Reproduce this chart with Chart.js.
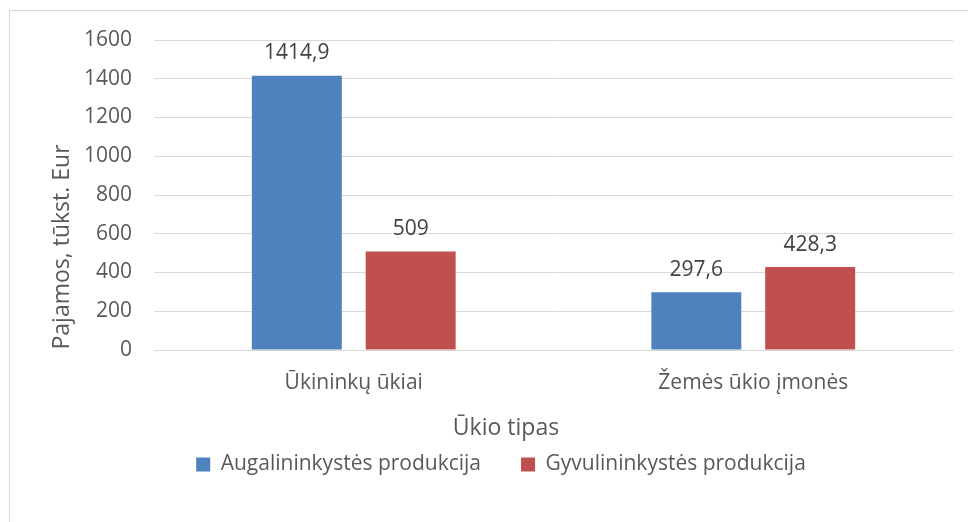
<!DOCTYPE html>
<html>
<head>
<meta charset="utf-8">
<script src="https://cdn.jsdelivr.net/npm/chart.js@4.4.0/dist/chart.umd.min.js"></script>
<style>
  html, body { margin: 0; padding: 0; background: #fff; overflow: hidden; }
  #frame { position: absolute; left: 9px; top: 10px; width: 1100px; height: 700px; border: 1px solid #d9d9d9; }
  #wrap { position: absolute; left: 0; top: 0; width: 968px; height: 522px; }
</style>
</head>
<body>
<div id="frame"></div>
<div id="wrap"><canvas id="farmChart" width="968" height="522"></canvas></div>
<script>
// kategorijos ir reikšmės
const categories = ['Ūkininkų ūkiai', 'Žemės ūkio įmonės'];
const cropValues = [1414.9, 297.6];
const livestockValues = [509, 428.3];
const seriesNames = ['Augalininkystės produkcija', 'Gyvulininkystės produkcija'];
const yTitle = 'Pajamos, tūkst. Eur';
const xTitle = 'Ūkio tipas';

const FONT = '"Open Sans", "Noto Sans", sans-serif';
const TEXT = '#595959';

// reikšmės virš stulpelių ir ašių pavadinimai
const labelsPlugin = {
  id: 'valueLabels',
  afterDatasetsDraw(chart) {
    const ctx = chart.ctx;
    ctx.save();
    ctx.font = '21px ' + FONT;
    ctx.fillStyle = '#404040';
    ctx.textAlign = 'center';
    ctx.textBaseline = 'bottom';
    chart.data.datasets.forEach((ds, i) => {
      chart.getDatasetMeta(i).data.forEach((bar, j) => {
        ctx.fillText(String(ds.data[j]).replace('.', ','), bar.x, bar.y - 12);
      });
    });
    // ašių pavadinimai
    ctx.font = '23px ' + FONT;
    ctx.fillStyle = TEXT;
    ctx.textBaseline = 'middle';
    ctx.fillText(xTitle, 506, 428);
    ctx.translate(62, 247);
    ctx.rotate(-Math.PI / 2);
    ctx.fillText(yTitle, 0, 0);
    ctx.restore();
  }
};

new Chart(document.getElementById('farmChart').getContext('2d'), {
  type: 'bar',
  data: {
    labels: categories,
    datasets: [
      { label: seriesNames[0], data: cropValues, backgroundColor: '#4f81bd' },
      { label: seriesNames[1], data: livestockValues, backgroundColor: '#c0504d' }
    ]
  },
  options: {
    responsive: false,
    animation: false,
    categoryPercentage: 0.57,
    barPercentage: 0.79,
    layout: { padding: { left: 49, right: 15, top: 40, bottom: 37 } },
    plugins: {
      legend: {
        position: 'bottom',
        labels: {
          font: { family: FONT, size: 21 },
          color: TEXT,
          boxWidth: 14,
          boxHeight: 14,
          padding: 40
        }
      },
      tooltip: { enabled: false }
    },
    scales: {
      x: {
        grid: { display: false },
        border: { color: '#d9d9d9' },
        ticks: { font: { family: FONT, size: 21 }, color: TEXT, padding: 12 },
        afterFit(scale) { scale.height = 64; }
      },
      y: {
        min: 0,
        max: 1600,
        ticks: {
          stepSize: 200,
          font: { family: FONT, size: 21 },
          color: TEXT,
          padding: 22,
          callback: v => String(v)
        },
        grid: { color: '#d9d9d9', drawTicks: false },
        border: { display: false },
        afterFit(scale) { scale.width = 105; }
      }
    }
  },
  plugins: [labelsPlugin]
});
</script>
</body>
</html>
